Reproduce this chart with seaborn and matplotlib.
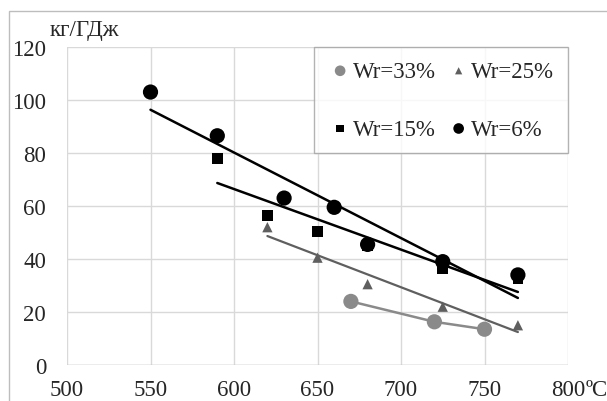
import numpy as np
import pandas as pd
import matplotlib
matplotlib.use("Agg")
import matplotlib.pyplot as plt
import seaborn as sns
from matplotlib.patches import Rectangle

# ---- data ----
t6 = [550, 590, 630, 660, 680, 725, 770]
v6 = [103, 86.5, 63, 59.5, 45.5, 39, 34]
t15 = [590, 620, 650, 680, 725, 770]
v15 = [78, 56.5, 50.5, 45, 36.5, 32.5]
t25 = [620, 650, 680, 725, 770]
v25 = [52, 40.5, 30.5, 22, 15]
t33 = [670, 720, 750]
v33 = [24, 16.3, 13.5]
labels = ["Wr=33%", "Wr=25%", "Wr=15%", "Wr=6%"]
x_ticks = [500, 550, 600, 650, 700, 750, 800]
y_ticks = [0, 20, 40, 60, 80, 100, 120]

sns.set_style("white")
plt.rcParams['font.family'] = ['Liberation Serif', 'DejaVu Serif']
FS = 16.5

fig = plt.figure(figsize=(6.07, 4.02), dpi=100)
ax = fig.add_axes([67/607, 1-366/402, (568-67)/607, (366-48)/402])

# figure border
fig.patches.append(Rectangle((9/607, -0.01), 1.0, (402-12)/402 + 0.01, transform=fig.transFigure,
                             fill=False, edgecolor='#bdbdbd', linewidth=1.0))

c33 = '#8a8a8a'
c25 = '#5f5f5f'
cb = '#000000'

df33 = pd.DataFrame({'t': t33, 'v': v33})
df25 = pd.DataFrame({'t': t25, 'v': v25})
df15 = pd.DataFrame({'t': t15, 'v': v15})
df6 = pd.DataFrame({'t': t6, 'v': v6})

# trend lines
sns.lineplot(data=df33, x='t', y='v', color=c33, linewidth=1.8, ax=ax, legend=False, zorder=2)
sns.regplot(data=df25, x='t', y='v', scatter=False, ci=None, truncate=True, ax=ax,
            line_kws=dict(color=c25, linewidth=1.6, zorder=2))
sns.regplot(data=df15, x='t', y='v', scatter=False, ci=None, truncate=True, ax=ax,
            line_kws=dict(color=cb, linewidth=1.8, zorder=2))
sns.regplot(data=df6, x='t', y='v', scatter=False, ci=None, truncate=True, ax=ax,
            line_kws=dict(color=cb, linewidth=1.8, zorder=2))

# markers
sns.scatterplot(data=df33, x='t', y='v', marker='o', s=120, color=c33, edgecolor='none', ax=ax, label=labels[0], zorder=3)
sns.scatterplot(data=df25, x='t', y='v', marker='^', s=55, color=c25, edgecolor='none', ax=ax, label=labels[1], zorder=3)
sns.scatterplot(data=df15, x='t', y='v', marker='s', s=60, color=cb, edgecolor='none', ax=ax, label=labels[2], zorder=3)
sns.scatterplot(data=df6, x='t', y='v', marker='o', s=120, color=cb, edgecolor='none', ax=ax, label=labels[3], zorder=4)

ax.set_xlim(500, 800)
ax.set_ylim(0, 120)
ax.set_xticks(x_ticks)
ax.set_yticks(y_ticks)
ax.set_xticklabels([str(v) for v in x_ticks], fontsize=FS)
ax.set_yticklabels([str(v) for v in y_ticks], fontsize=FS)
ax.set_xlabel('')
ax.set_ylabel('')
ax.grid(True, color='#d9d9d9', linewidth=1.0)
ax.tick_params(axis='both', length=5, width=1, color='#d9d9d9', pad=5)
ax.tick_params(axis='y', pad=10)
for s in ax.spines.values():
    s.set_visible(False)
ax.axhline(0, color='#bfbfbf', linewidth=1.0, zorder=1)

# unit after last tick label
ax.annotate('ºC', xy=(800, 0), xycoords=('data', 'axes fraction'), xytext=(12.5, -10),
            textcoords='offset points', ha='left', va='top', fontsize=FS)
# y unit label
fig.text(50/607, 1-36/402, 'кг/ГДж', fontsize=FS, ha='left', va='baseline')

# legend
h, l = ax.get_legend_handles_labels()
order = [0, 2, 1, 3]
leg = ax.legend([h[i] for i in order], [l[i] for i in order], ncol=2, loc='upper right',
                bbox_to_anchor=(1.0, 1.0), borderaxespad=0.0, fontsize=FS, frameon=True,
                fancybox=False, edgecolor='#a0a0a0', handletextpad=0.0, columnspacing=0.45,
                labelspacing=1.6, borderpad=0.6, handlelength=1.1, markerscale=0.7)
leg.get_frame().set_linewidth(1.0)

fig.savefig('out.png', dpi=100)
